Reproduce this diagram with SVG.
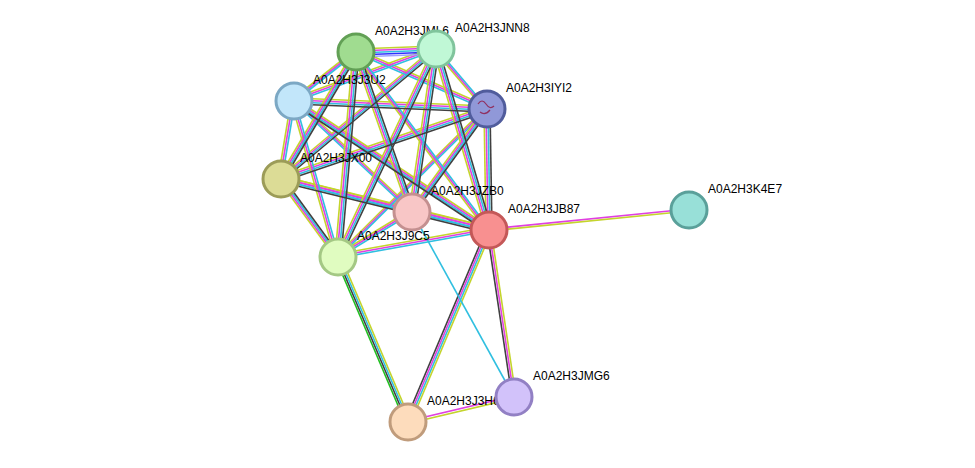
<svg xmlns="http://www.w3.org/2000/svg" xmlns:xlink="http://www.w3.org/1999/xlink" width="975" height="468" viewBox="0 0 975 468">
<style>
text{font-family:"Liberation Sans",Arial,sans-serif;font-size:12px;fill:#000}
.n{stroke-width:3}
line{fill:none}
#edges{stroke-width:1.6}
</style>
<defs>
<g id="AH">
<line x1="356" y1="52" x2="436" y2="49"/><line x1="356" y1="52" x2="294" y2="101"/><line x1="356" y1="52" x2="487" y2="109"/>
<line x1="436" y1="49" x2="294" y2="101"/><line x1="436" y1="49" x2="281" y2="179"/><line x1="294" y1="101" x2="487" y2="109"/>
<line x1="294" y1="101" x2="412" y2="212"/><line x1="294" y1="101" x2="489" y2="230"/><line x1="487" y1="109" x2="281" y2="179"/>
<line x1="487" y1="109" x2="338" y2="257"/><line x1="281" y1="179" x2="412" y2="212"/><line x1="281" y1="179" x2="489" y2="230"/>
<line x1="412" y1="212" x2="489" y2="230"/><line x1="412" y1="212" x2="338" y2="257"/><line x1="489" y1="230" x2="338" y2="257"/>
</g>
<g id="AV">
<line x1="356" y1="52" x2="281" y2="179"/><line x1="356" y1="52" x2="412" y2="212"/><line x1="356" y1="52" x2="489" y2="230"/>
<line x1="356" y1="52" x2="338" y2="257"/><line x1="436" y1="49" x2="487" y2="109"/><line x1="436" y1="49" x2="412" y2="212"/>
<line x1="436" y1="49" x2="489" y2="230"/><line x1="436" y1="49" x2="338" y2="257"/><line x1="294" y1="101" x2="281" y2="179"/>
<line x1="294" y1="101" x2="338" y2="257"/><line x1="487" y1="109" x2="412" y2="212"/><line x1="487" y1="109" x2="489" y2="230"/>
<line x1="281" y1="179" x2="338" y2="257"/>
</g>
<g id="BH">
<line x1="436" y1="49" x2="281" y2="179"/><line x1="294" y1="101" x2="489" y2="230"/><line x1="487" y1="109" x2="281" y2="179"/>
<line x1="281" y1="179" x2="489" y2="230"/><line x1="294" y1="101" x2="487" y2="109"/>
</g>
<g id="BV">
<line x1="356" y1="52" x2="281" y2="179"/><line x1="356" y1="52" x2="412" y2="212"/><line x1="356" y1="52" x2="338" y2="257"/>
<line x1="436" y1="49" x2="412" y2="212"/><line x1="436" y1="49" x2="338" y2="257"/><line x1="436" y1="49" x2="489" y2="230"/>
<line x1="487" y1="109" x2="412" y2="212"/><line x1="487" y1="109" x2="489" y2="230"/><line x1="281" y1="179" x2="338" y2="257"/>
</g>
</defs>
<g id="edges">
<use xlink:href="#AH" href="#AH" stroke="#c4d42c" transform="translate(0,-3)"/>
<use xlink:href="#AH" href="#AH" stroke="#e040e0" transform="translate(0,-1)"/>
<use xlink:href="#AH" href="#AH" stroke="#30bfe0" transform="translate(0,1)"/>
<use xlink:href="#AV" href="#AV" stroke="#c4d42c" transform="translate(-3,0)"/>
<use xlink:href="#AV" href="#AV" stroke="#e040e0" transform="translate(-1,0)"/>
<use xlink:href="#AV" href="#AV" stroke="#30bfe0" transform="translate(1,0)"/>
<use xlink:href="#BH" href="#BH" stroke="#404040" transform="translate(0,3)"/>
<use xlink:href="#BV" href="#BV" stroke="#404040" transform="translate(3,0)"/>
<line x1="356" y1="52" x2="436" y2="49" stroke="#3030ff" transform="translate(0,3)"/>
<line x1="356" y1="52" x2="436" y2="49" stroke="#a0a0ff" transform="translate(0,5)"/>
<line x1="489" y1="230" x2="689" y2="210" stroke="#e040e0" transform="translate(0,-1)"/>
<line x1="489" y1="230" x2="689" y2="210" stroke="#c4d42c" transform="translate(0,1)"/>
<line x1="489" y1="230" x2="514" y2="397" stroke="#404040" transform="translate(-2,0)"/>
<line x1="489" y1="230" x2="514" y2="397" stroke="#e040e0" transform="translate(0,0)"/>
<line x1="489" y1="230" x2="514" y2="397" stroke="#c4d42c" transform="translate(2,0)"/>
<line x1="489" y1="230" x2="408" y2="422" stroke="#404040" transform="translate(-3,0)"/>
<line x1="489" y1="230" x2="408" y2="422" stroke="#e040e0" transform="translate(-1,0)"/>
<line x1="489" y1="230" x2="408" y2="422" stroke="#30bfe0" transform="translate(1,0)"/>
<line x1="489" y1="230" x2="408" y2="422" stroke="#c4d42c" transform="translate(3,0)"/>
<line x1="412" y1="212" x2="514" y2="397" stroke="#30bfe0"/>
<line x1="338" y1="257" x2="408" y2="422" stroke="#20c020" transform="translate(-3,0)"/>
<line x1="338" y1="257" x2="408" y2="422" stroke="#404040" transform="translate(-1,0)"/>
<line x1="338" y1="257" x2="408" y2="422" stroke="#30bfe0" transform="translate(1,0)"/>
<line x1="338" y1="257" x2="408" y2="422" stroke="#c4d42c" transform="translate(3,0)"/>
<line x1="408" y1="422" x2="514" y2="397" stroke="#e040e0" transform="translate(0,-1)"/>
<line x1="408" y1="422" x2="514" y2="397" stroke="#c4d42c" transform="translate(0,1.5)"/>
</g>
<g id="JML6"><circle class="n" cx="356" cy="52" r="18" fill="#a0dc90" stroke="#62a055"/><text x="375" y="35">A0A2H3JML6</text></g>
<g id="JNN8"><circle class="n" cx="436" cy="49" r="18" fill="#c0f8d6" stroke="#80c49c"/><text x="455" y="32">A0A2H3JNN8</text></g>
<g id="J3U2"><circle class="n" cx="294" cy="101" r="18" fill="#c2e6fa" stroke="#7ca8c4"/><text x="313" y="84">A0A2H3J3U2</text></g>
<g id="IYI2"><circle class="n" cx="487" cy="109" r="18" fill="#9098d8" stroke="#505c9c"/><path d="M478 104 q4 -6 8 0 t8 2 M480 112 q5 4 10 -2" stroke="#903060" fill="none" stroke-width="1.2"/><text x="506" y="92">A0A2H3IYI2</text></g>
<g id="JX00"><circle class="n" cx="281" cy="179" r="18" fill="#dcdc96" stroke="#9c9c58"/><text x="300" y="162">A0A2H3JX00</text></g>
<g id="JZB0"><circle class="n" cx="412" cy="212" r="18" fill="#f8c6c6" stroke="#c49090"/><text x="431" y="195">A0A2H3JZB0</text></g>
<g id="JB87"><circle class="n" cx="489" cy="230" r="18" fill="#f89090" stroke="#c45858"/><text x="508" y="213">A0A2H3JB87</text></g>
<g id="K4E7"><circle class="n" cx="689" cy="210" r="18" fill="#98e0d8" stroke="#5aa09a"/><text x="708" y="193">A0A2H3K4E7</text></g>
<g id="J9C5"><circle class="n" cx="338" cy="257" r="18" fill="#e0fcc0" stroke="#a4c884"/><text x="357" y="240">A0A2H3J9C5</text></g>
<g id="J3H6"><circle class="n" cx="408" cy="422" r="18" fill="#fddcbc" stroke="#c09c7c"/><text x="427" y="405">A0A2H3J3H6</text></g>
<g id="JMG6"><circle class="n" cx="514" cy="397" r="18" fill="#d2c2fa" stroke="#9280c4"/><text x="533" y="380">A0A2H3JMG6</text></g>
</svg>
